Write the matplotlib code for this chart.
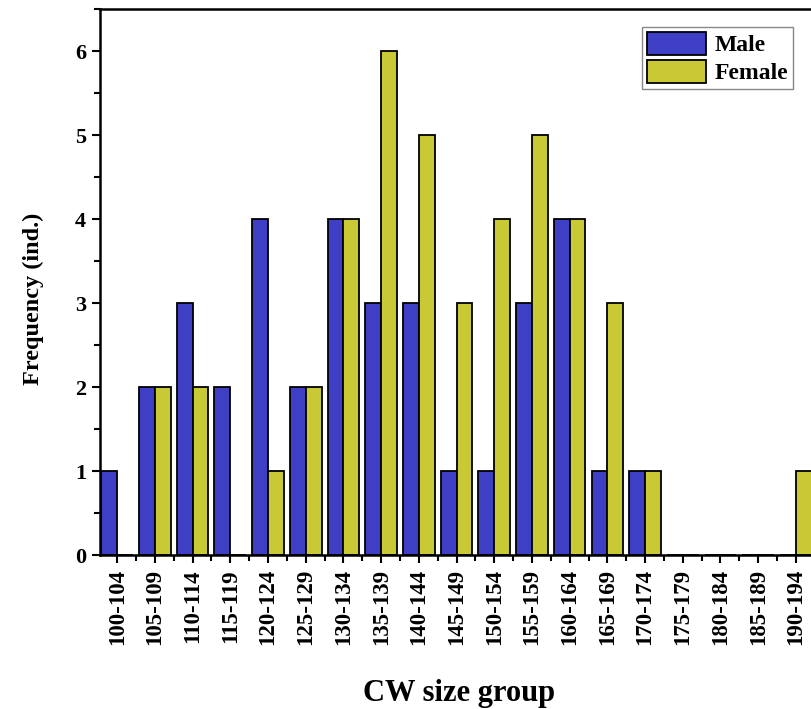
import numpy as np
import matplotlib
matplotlib.use("Agg")
import matplotlib.pyplot as plt
from matplotlib.ticker import MultipleLocator

plt.rcParams["font.family"] = ["Liberation Serif", "DejaVu Serif"]
plt.rcParams["font.weight"] = "bold"

# data
groups = ["100-104", "105-109", "110-114", "115-119", "120-124", "125-129",
          "130-134", "135-139", "140-144", "145-149", "150-154", "155-159",
          "160-164", "165-169", "170-174", "175-179", "180-184", "185-189",
          "190-194"]
male = [1, 2, 3, 2, 4, 2, 4, 3, 3, 1, 1, 3, 4, 1, 1, 0, 0, 0, 0]
female = [0, 2, 2, 0, 1, 2, 4, 6, 5, 3, 4, 5, 4, 3, 1, 0, 0, 0, 1]

male_color = "#3F3FC6"
female_color = "#C9C935"

fig = plt.figure(figsize=(8.12, 7.09), dpi=100)
ax = fig.add_axes([0.123, 0.217, 0.885, 0.770])

x = np.arange(len(groups))
w = 0.42
ax.bar(x - w / 2, male, width=w, color=male_color, edgecolor="black",
       linewidth=1.3, label="Male")
ax.bar(x + w / 2, female, width=w, color=female_color, edgecolor="black",
       linewidth=1.3, label="Female")

ax.set_xlim(-0.46, 18.6)
ax.set_ylim(0, 6.5)

ax.set_xticks(x)
ax.set_xticklabels(groups, rotation=90, fontsize=16.5, fontweight="bold")
ax.xaxis.set_minor_locator(MultipleLocator(1, offset=0.5))
ax.yaxis.set_major_locator(MultipleLocator(1))
ax.yaxis.set_minor_locator(MultipleLocator(0.5))
for lbl in ax.get_yticklabels():
    lbl.set_fontsize(16)
    lbl.set_fontweight("bold")

ax.tick_params(which="major", direction="out", length=6, width=1.5, pad=4)
ax.tick_params(which="minor", direction="out", length=4, width=1.5)
for s in ax.spines.values():
    s.set_linewidth(1.8)

ax.set_xlabel("CW size group", fontsize=22, fontweight="bold", labelpad=24)
ax.set_ylabel("Frequency (ind.)", fontsize=17.5, fontweight="bold")
ax.yaxis.set_label_coords(-0.078, 0.47)

leg = ax.legend(loc="upper right", bbox_to_anchor=(0.965, 0.967),
                prop={"size": 17, "weight": "bold"}, frameon=True,
                fancybox=False, edgecolor="#888888", framealpha=1,
                handlelength=2.5, handleheight=1.1, labelspacing=0.15,
                borderpad=0.2, handletextpad=0.4, borderaxespad=0)
leg.get_frame().set_linewidth(1.0)

fig.savefig("out.png", dpi=100, facecolor="white")
